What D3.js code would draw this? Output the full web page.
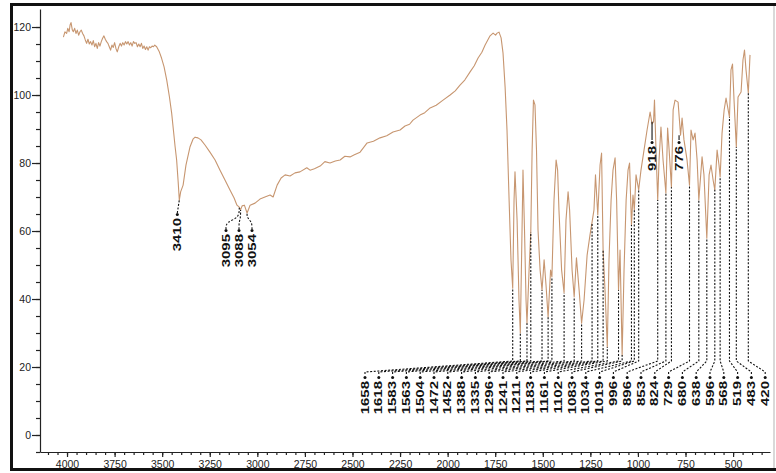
<!DOCTYPE html>
<html>
<head>
<meta charset="utf-8">
<script src="https://cdn.jsdelivr.net/npm/d3@7"></script>
<style>
  html, body { margin: 0; background: #fff; overflow: hidden; }
  svg { display: block; font-family: "Liberation Sans", Arial, sans-serif; }
</style>
</head>
<body>
<svg></svg>
<script>
// IR spectrum: [wavenumber (cm-1), transmittance (%)]
const plateau = [
  [4019,117.0],[4011,118.6],[4002,118.1],[3996,119.6],[3989,118.6],[3984,120.6],[3979,121.3],[3972,119.1],
  [3967,118.6],[3960,119.6],[3953,118.1],[3946,119.1],[3939,117.6],[3932,118.6],[3925,119.1],[3918,118.1],
  [3911,117.4],[3904,116.2],[3897,115.2],[3890,116.4],[3883,115.0],[3876,115.7],[3869,114.7],[3862,116.0],
  [3855,114.2],[3848,115.2],[3841,113.7],[3834,115.4],[3827,114.4],[3820,115.7],[3813,116.7],[3806,117.4],
  [3799,116.4],[3792,115.7],[3785,115.2],[3778,114.2],[3771,113.2],[3764,114.7],[3757,114.0],[3750,115.4],
  [3743,113.7],[3736,112.7],[3728,114.2],[3721,115.2],[3714,114.4],[3707,115.4],[3700,114.7],[3693,115.7],
  [3686,115.0],[3679,115.7],[3672,114.7],[3665,115.4],[3658,114.4],[3651,115.7],[3644,115.2],[3637,115.4],
  [3630,114.2],[3623,115.0],[3616,114.2],[3609,115.2],[3602,113.7],[3595,114.4],[3588,113.4],[3581,114.2],
  [3574,113.2],[3567,114.2],[3560,113.9],[3553,114.4],[3546,114.2],[3539,114.7],[3529,114.2]
];
const ohBand = [
  [3515,112.7],[3503,110.8],[3490,108.3],[3476,104.4],[3462,99.5],[3450,94.6],[3441,89.7],[3432,84.8],
  [3424,80.9],[3416,74.5],[3410,69.1],[3403,71.5],[3390,73.5],[3375,79.4],[3354,84.7],[3338,87.0],
  [3327,87.6],[3312,87.4],[3296,86.8],[3275,85.3],[3249,83.2],[3222,80.9],[3196,77.9],[3170,75.0],
  [3143,72.0],[3122,69.7],[3107,67.6],[3095,67.0],[3088,66.2],[3080,67.4],[3068,67.6],[3054,65.3],
  [3046,66.4],[3038,67.6]
];
const slope = [
  [3012,68.2],[2986,69.4],[2960,70.0],[2933,70.6],[2917,70.0],[2896,73.5],[2875,75.6],[2854,76.5],
  [2828,76.2],[2802,77.1],[2776,77.4],[2740,78.6],[2723,77.9],[2700,78.3],[2670,79.1],[2645,80.4],
  [2618,80.0],[2590,80.6],[2565,80.9],[2540,82.0],[2513,81.8],[2490,82.4],[2460,83.2],[2423,85.9],
  [2390,86.4],[2355,87.4],[2320,88.0],[2287,89.1],[2250,89.7],[2224,90.9],[2200,91.4],[2182,92.6],
  [2145,94.1],[2120,94.8],[2092,96.2],[2060,97.0],[2024,98.5],[1987,100.0],[1960,101.2],[1935,102.9],
  [1910,104.4],[1882,106.8],[1860,108.6],[1840,110.9],[1820,112.6],[1803,114.7],[1777,117.4],[1761,118.2],
  [1748,117.6],[1740,118.2],[1730,118.5],[1719,116.8],[1709,112.4],[1698,102.4],[1688,89.7],[1677,69.1],
  [1667,51.5]
];
const fingerprint = [
  [1658,43.2],[1651,69.1],[1646,77.4],[1635,63.2],[1625,39.7],[1618,30.0],[1609,60.3],[1604,77.9],
  [1596,60.3],[1588,39.7],[1583,32.9],[1572,48.5],[1563,59.7],[1556,83.8],[1549,98.5],[1541,97.1],
  [1533,83.8],[1525,60.3],[1514,48.5],[1504,42.6],[1493,51.5],[1483,44.1],[1472,34.7],[1459,48.5],
  [1452,46.5],[1441,69.1],[1430,80.9],[1422,77.9],[1415,66.2],[1401,48.5],[1388,41.8],[1378,63.2],
  [1367,71.5],[1359,66.2],[1346,48.5],[1335,40.6],[1323,52.1],[1309,42.6],[1296,32.9],[1283,39.7],
  [1267,52.9],[1252,58.8],[1241,62.6],[1231,66.2],[1223,76.5],[1211,64.7],[1199,79.4],[1191,82.9],
  [1183,54.4],[1173,42.6],[1161,25.9],[1152,51.5],[1141,69.1],[1131,77.9],[1120,81.5],[1112,69.1],
  [1102,42.6],[1094,54.4],[1083,23.5],[1073,48.5],[1062,69.1],[1052,77.9],[1044,80.0],[1034,61.8],
  [1026,70.6],[1019,66.2],[1010,76.5],[996,72.1],[984,77.9],[968,83.8],[952,89.7],[936,95.0],
  [926,91.5],[918,92.1],[913,98.5],[905,83.8],[896,69.1],[889,80.9],[879,90.6],[868,80.9],
  [853,71.2],[844,90.3],[836,83.8],[824,72.9],[815,95.6],[805,98.5],[789,97.9],[776,88.2],
  [768,93.2],[758,86.8],[742,80.9],[729,73.5],[721,89.7],[710,86.8],[700,88.8],[689,80.9],
  [680,69.1],[663,81.8],[653,76.5],[638,57.9],[626,76.5],[616,79.4],[605,75.0],[596,72.1],
  [584,83.8],[574,79.4],[568,75.9],[558,88.8],[547,95.6],[537,99.1],[519,93.5],[511,107.4],
  [503,109.1],[495,98.5],[483,84.7],[474,99.4],[458,100.9],[448,110.3],[440,113.2],[432,107.4],
  [420,100.6],[411,111.8]
];

// peak labels
const bottomPeaks = [1658,1618,1583,1563,1504,1472,1452,1388,1335,1296,1241,1211,1183,1161,1102,
                     1083,1034,1019,996,896,853,824,729,680,638,596,568,519,483,420];
const chPeaks = [3095,3088,3054];
const ohPeak = [3410];
const shortPeaks = [918,776];

const xTicks = [4000,3750,3500,3250,3000,2750,2500,2250,2000,1750,1500,1250,1000,750,500];
const yTicks = [0,20,40,60,80,100,120];

const W = 776, H = 473;
const svg = d3.select("svg").attr("width", W).attr("height", H);
svg.append("rect").attr("width", W).attr("height", H).attr("fill", "#fff");

const spectrum = plateau.concat(ohBand, slope, fingerprint);
const tAt = new Map(spectrum.map(d => [d[0], d[1]]));

const x = d3.scaleLinear().domain([4142, 306]).range([40, 770]);
const y = d3.scaleLinear().domain([-5, 125.3]).range([452, 9]);

// outer frame of the printout (right edge is cut off in the scan)
svg.append("path")
  .attr("d", "M776,4.5H11.5V469.5H776")
  .attr("fill", "none").attr("stroke", "#111").attr("stroke-width", 3);
svg.append("line").attr("x1", 774).attr("x2", 774).attr("y1", 6).attr("y2", 468)
  .attr("stroke", "#ccc").attr("stroke-width", 1.5);

// minor ticks
svg.append("g").attr("transform", "translate(40,0)")
  .call(d3.axisLeft(y).tickValues(d3.range(-5, 125, 5)).tickSize(4).tickFormat("").tickSizeOuter(0))
  .call(g => g.select(".domain").remove());
svg.append("g").attr("transform", "translate(0,452)")
  .call(d3.axisBottom(x).tickValues(d3.range(350, 4150, 50)).tickSize(3).tickFormat("").tickSizeOuter(0))
  .call(g => g.select(".domain").remove());

// main axes
svg.append("g").attr("transform", "translate(40,0)")
  .call(d3.axisLeft(y).tickValues(yTicks).tickSize(8).tickPadding(1).tickSizeOuter(0));
svg.append("g").attr("transform", "translate(0,452)")
  .call(d3.axisBottom(x).tickValues(xTicks).tickFormat(d3.format("d")).tickSize(5).tickPadding(4).tickSizeOuter(0));
svg.selectAll(".tick text").attr("font-size", 10.5).attr("fill", "#222")
  .attr("font-family", "'Liberation Sans', Arial, sans-serif");
svg.selectAll(".tick line, .domain").attr("stroke", "#222").attr("stroke-width", 1.2);

// spectrum trace
svg.append("path")
  .datum(spectrum)
  .attr("fill", "none")
  .attr("stroke", "#c79670")
  .attr("stroke-width", 1.1)
  .attr("stroke-linejoin", "round")
  .attr("d", d3.line().x(d => x(d[0])).y(d => y(d[1])));

const lead = svg.append("g").attr("fill", "none").attr("stroke", "#111")
  .attr("stroke-width", 1.1).attr("stroke-dasharray", "2,1.6");
const labels = svg.append("g").attr("fill", "#111").attr("font-size", 10).attr("font-weight", "bold");

function label(text, lx, topY) {
  labels.append("text")
    .attr("transform", `translate(${lx},${topY}) rotate(-90) scale(1.5,1)`)
    .attr("text-anchor", "end").attr("dy", "0.36em")
    .text(text);
  labels.append("circle").attr("cx", lx).attr("cy", topY - 3.5).attr("r", 1.5);
}

// fan of leaders under the fingerprint region
bottomPeaks.forEach((p, i) => {
  const lx = 365 + i * 13.8;
  const px = x(p);
  lead.append("path").attr("d", d3.line()([[lx, 374], [lx, 372], [px, 361], [px, y(tAt.get(p))]]));
  label(p, lx, 381);
});

// O-H band
ohPeak.forEach(p => {
  const lx = x(p) - 2;
  lead.append("path").attr("d", d3.line()([[lx, 213], [x(p), y(tAt.get(p))]]));
  label(p, lx, 218);
});

// C-H group
chPeaks.forEach((p, i) => {
  const lx = 226 + i * 13;
  lead.append("path").attr("d", d3.line().curve(d3.curveBasis)([[lx, 229], [lx, 222], [x(p), 218], [x(p), y(tAt.get(p))]]));
  label(p, lx, 234);
});

// short solid leaders for the two labels inside the band
shortPeaks.forEach(p => {
  const lx = x(p) - 1.5;
  svg.append("line").attr("x1", lx).attr("x2", lx).attr("y1", y(tAt.get(p))).attr("y2", 140)
    .attr("stroke", "#111").attr("stroke-width", 1.1);
  label(p, lx, 146);
});
</script>
</body>
</html>
